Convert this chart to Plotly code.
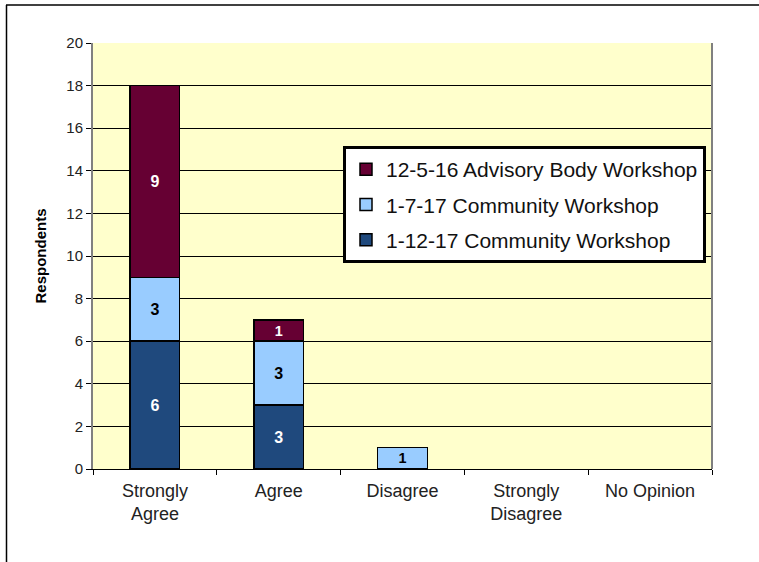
import plotly.graph_objects as go

categories = ["Strongly<br>Agree", "Agree", "Disagree", "Strongly<br>Disagree", "No Opinion"]
series_names = ["1-12-17 Community Workshop", "1-7-17 Community Workshop", "12-5-16 Advisory Body Workshop"]
ws_1_12_17 = [6, 3, 0, 0, 0]
ws_1_7_17 = [3, 3, 1, 0, 0]
ws_12_5_16 = [9, 1, 0, 0, 0]
y_ticks = [0, 2, 4, 6, 8, 10, 12, 14, 16, 18, 20]

colors = ["#1F497D", "#99CCFF", "#660033"]
text_colors = ["white", "black", "white"]
legend_ranks = [3, 2, 1]

fig = go.Figure()
for i, (name, vals, col, tcol) in enumerate(zip(series_names, [ws_1_12_17, ws_1_7_17, ws_12_5_16], colors, text_colors)):
    fig.add_trace(go.Bar(
        x=categories, y=[v if v else None for v in vals], name=name,
        legendgroup=f"g{i}", legendrank=legend_ranks[i],
        marker=dict(color=col, line=dict(color="black", width=1.5)),
        text=[str(v) if v else "" for v in vals],
        textposition="inside", insidetextanchor="middle", textangle=0,
        textfont=dict(family="Arial", size=16, color=tcol, weight="bold"),
        width=0.4,
    ))

W, H = 759, 562
L, R, T, B = 93, 47, 43, 93
pw, ph = W - L - R, H - T - B

def px(x):
    return (x - L) / pw

def py(y):
    return (H - B - y) / ph

fig.update_layout(
    width=W, height=H,
    barmode="stack",
    paper_bgcolor="white", plot_bgcolor="#FFFFCC",
    margin=dict(l=L, r=R, t=T, b=B),
    font=dict(family="Arial", color="#222222"),
    showlegend=True,
    legend=dict(
        x=px(343), y=py(146), xanchor="left", yanchor="top",
        bgcolor="white", bordercolor="black", borderwidth=3,
        font=dict(family="Arial", size=21, color="#111111"),
        traceorder="grouped", tracegroupgap=5,
    ),
    xaxis=dict(
        showline=True, linecolor="black", linewidth=1,
        ticks="outside", ticklen=5, tickcolor="black",
        tickson="boundaries", ticklabelstandoff=5,
        tickfont=dict(family="Arial", size=18, color="#222222"),
        mirror=False,
    ),
    yaxis=dict(
        range=[0, 20], tickvals=y_ticks,
        showgrid=True, gridcolor="black", gridwidth=1,
        showline=True, linecolor="#808080", linewidth=2,
        ticks="outside", ticklen=5, tickcolor="black",
        tickfont=dict(family="Arial", size=15, color="#222222"),
        title=dict(text="<b>Respondents</b>", font=dict(family="Arial", size=15, color="black"), standoff=16),
        zeroline=False,
    ),
    shapes=[
        dict(type="line", xref="paper", yref="paper", x0=px(712), x1=px(712), y0=0, y1=1,
             line=dict(color="#808080", width=2)),
        dict(type="line", xref="paper", yref="paper", x0=px(6), x1=px(770), y0=py(5), y1=py(5),
             line=dict(color="black", width=1.5)),
        dict(type="line", xref="paper", yref="paper", x0=px(6.5), x1=px(6.5), y0=py(5), y1=py(575),
             line=dict(color="black", width=1.5)),
    ],
)

fig.write_html("out.html", config={"displayModeBar": False},
               post_script="document.body.style.margin='0px';document.body.style.overflow='hidden';")
